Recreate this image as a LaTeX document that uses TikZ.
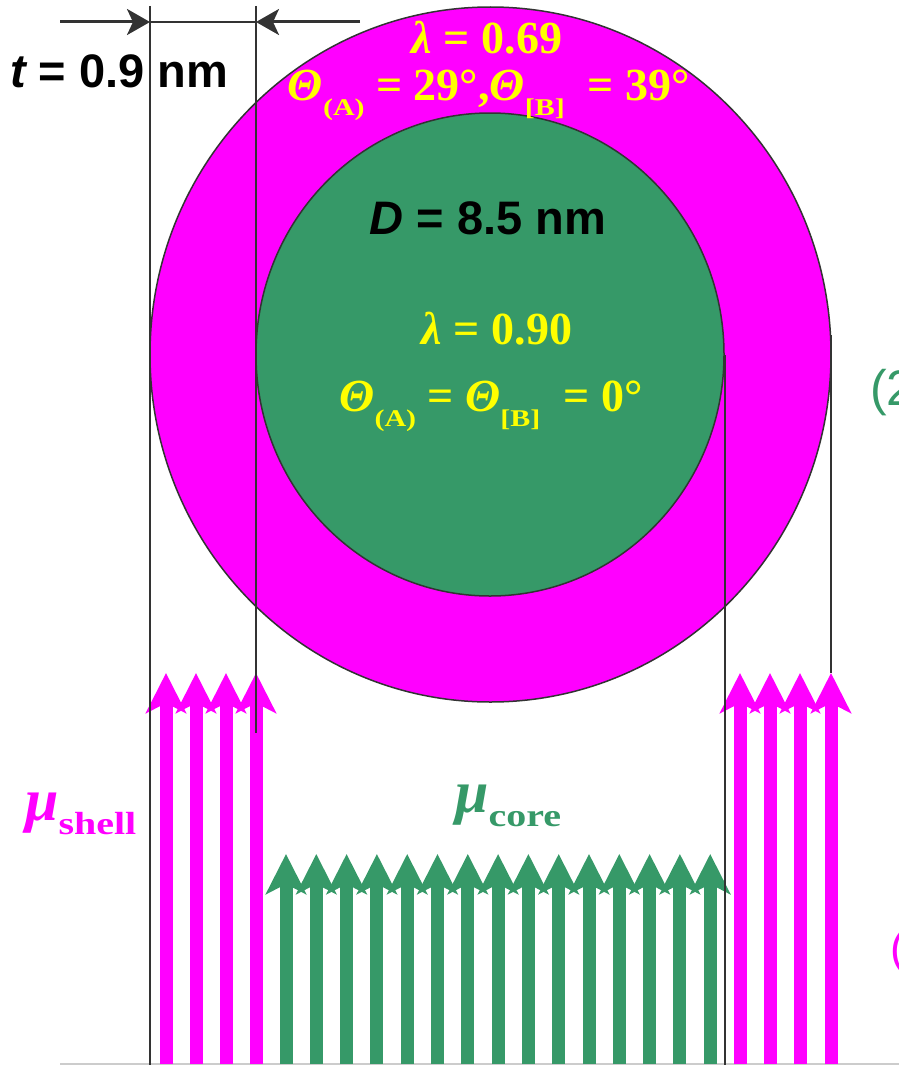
\documentclass[tikz,border=0pt]{standalone}
\usepackage{fontspec}
\setmainfont{Liberation Serif}
\setsansfont{Liberation Sans}
\usetikzlibrary{arrows.meta}
\definecolor{shellc}{RGB}{255,0,255}
\definecolor{corec}{RGB}{54,153,104}
\definecolor{labc}{RGB}{255,255,0}
\definecolor{edgec}{RGB}{51,51,51}
% chỉ số dưới (A), [B], shell, core
\newcommand{\sbx}[3][24]{\raisebox{-#2pt}{\scalebox{1.25}[1]{\fontsize{#1}{#1}\selectfont\bfseries #3}}}
\tikzset{
  yellowtxt/.style={text=labc,font=\fontsize{46}{50}\selectfont\bfseries,inner sep=0pt},
  sanstxt/.style={text=black,font=\fontsize{47}{50}\selectfont\sffamily\bfseries,inner sep=0pt},
  guide/.style={draw=edgec,line width=1.5pt},
  shellarrow/.style={draw=shellc,line width=13pt,-{Stealth[width=40pt,length=40pt,inset=10pt]}},
  corearrow/.style={draw=corec,line width=13pt,-{Stealth[width=40pt,length=40pt,inset=10pt]}},
}
\begin{document}
\begin{tikzpicture}[x=1pt,y=-1pt]
    \useasboundingbox (0,0) rectangle (899,1065);
    % Vỏ và lõi
    \draw[fill=shellc,draw=edgec,line width=1.5pt] (490.5,354.5) ellipse [x radius=340.5,y radius=347.5];
    \draw[fill=corec,draw=edgec,line width=1.5pt] (490,354.5) ellipse [x radius=234,y radius=241.5];
    % Đường đáy
    \draw[gray!40,line width=1.2pt] (60,1064) -- (899,1064);
    % Mũi tên mu_shell
    \foreach \x in {166,196,226,256,740,770,800,831}
        \draw[shellarrow] (\x,1064) -- (\x,673);
    % Mũi tên mu_core
    \foreach \i in {0,...,14}
        \draw[corearrow] ({286+30.3*\i},1064) -- ({286+30.3*\i},854);
    % Đường gióng
    \draw[guide] (150,6) -- (150,1065);
    \draw[guide] (256,6) -- (256,733);
    \draw[guide] (725,355) -- (725,1065);
    \draw[guide] (831,335) -- (831,673);
    % Kích thước t
    \coordinate (tL) at (60,22);
    \coordinate (tA) at (150,22);
    \coordinate (tB) at (256,22);
    \coordinate (tR) at (360,22);
    \draw[draw=edgec,line width=3pt,-{Stealth[length=23pt,width=26pt,inset=6pt]}] (tL) -- (tA);
    \draw[draw=edgec,line width=1.5pt] (tA) -- (tB);
    \draw[draw=edgec,line width=3pt,-{Stealth[length=23pt,width=26pt,inset=6pt]}] (tR) -- (tB);
    \node[sanstxt,anchor=base west] (tlab) at (10,88) {\itshape t\upshape{} = 0.9 nm};
    \node[sanstxt,anchor=base] (dlab) at (488,234) {\itshape D\upshape{} = 8.5 nm};
    % Nhãn vỏ
    \node[yellowtxt,anchor=base] (lamshell) at (487,53) {\itshape λ\upshape{} = 0.69};
    \node[yellowtxt,anchor=base] (thshell) at (489,100) {\itshape Θ\upshape\sbx{15}{(A)} = 29°,\itshape Θ\upshape\sbx{15}{[B]}\ \ = 39°};
    % Nhãn lõi
    \node[yellowtxt,anchor=base] (lamcore) at (497,344) {\itshape λ\upshape{} = 0.90};
    \node[yellowtxt,anchor=base] (thcore) at (491,411) {\itshape Θ\upshape\sbx{15}{(A)} = \itshape Θ\upshape\sbx{15}{[B]}\ \ = 0°};
    % Nhãn mu
    \node[text=shellc,inner sep=0pt,anchor=base west,font=\fontsize{60}{60}\selectfont\bfseries] (mushell) at (25,820) {\itshape μ\upshape\sbx[32]{14}{shell}};
    \node[text=corec,inner sep=0pt,anchor=base west,font=\fontsize{60}{60}\selectfont\bfseries] (mucore) at (455,812) {\itshape μ\upshape\sbx[32]{14}{core}};
    % Chữ bị cắt ở mép phải
    \node[text=corec,inner sep=0pt,anchor=base west,font=\fontsize{50}{50}\selectfont\sffamily] (cut2) at (870,405) {(2};
    \node[text=shellc,inner sep=0pt,anchor=base west,font=\fontsize{45}{45}\selectfont\sffamily] (cut1) at (890,963) {(};
\end{tikzpicture}
\end{document}
